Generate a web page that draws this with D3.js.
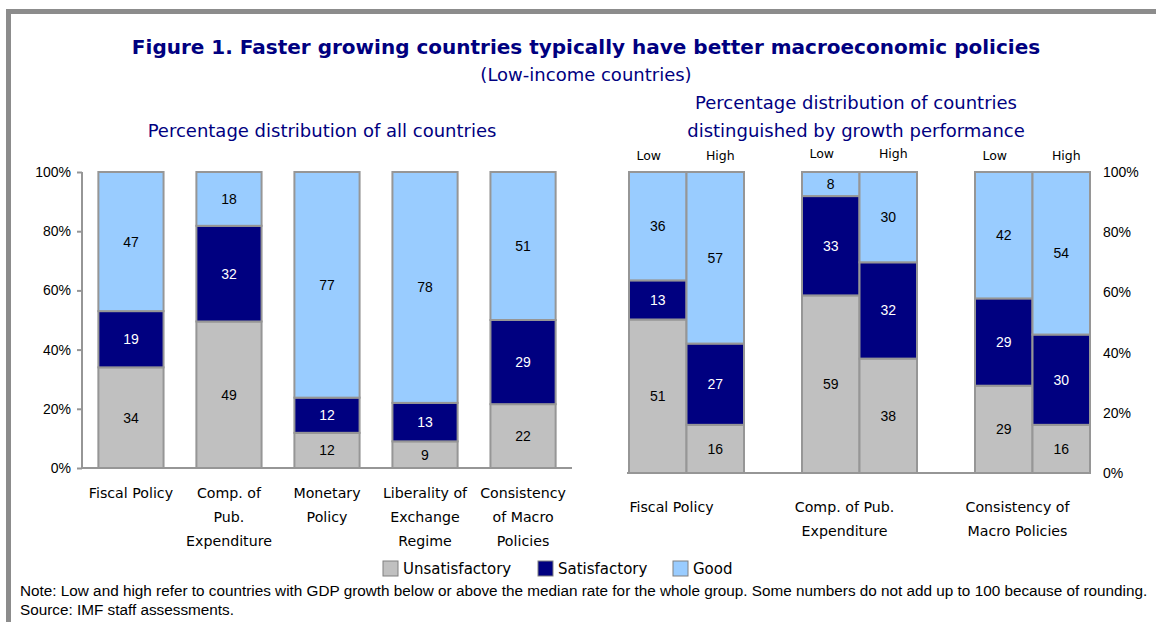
<!DOCTYPE html>
<html><head><meta charset="utf-8">
<script src="https://cdn.jsdelivr.net/npm/d3@7"></script>
<style>body{margin:0;background:#fff}svg{display:block}text{font-family:"Liberation Sans",Arial,sans-serif}.dv{font-family:"DejaVu Sans",Verdana,sans-serif}</style>
</head><body>
<script>
// ---- data ----
const seriesNames = ["Unsatisfactory", "Satisfactory", "Good"];
const leftCategories = [["Fiscal Policy"], ["Comp. of", "Pub.", "Expenditure"], ["Monetary", "Policy"], ["Liberality of", "Exchange", "Regime"], ["Consistency", "of Macro", "Policies"]];
const leftUnsatisfactory = [34, 49, 12, 9, 22];
const leftSatisfactory = [19, 32, 12, 13, 29];
const leftGood = [47, 18, 77, 78, 51];
const rightGroups = [["Fiscal Policy"], ["Comp. of Pub.", "Expenditure"], ["Consistency of", "Macro Policies"]];
const rightSubgroups = ["Low", "High"];
const rightUnsatisfactory = [[51, 16], [59, 38], [29, 16]];
const rightSatisfactory = [[13, 27], [33, 32], [29, 30]];
const rightGood = [[36, 57], [8, 30], [42, 54]];
const yTicks = [0, 20, 40, 60, 80, 100];

const colors = ["#C0C0C0", "#000080", "#99CCFF"];
const labelColors = ["#000", "#fff", "#000"];
const strokeCol = "#969696";

const svg = d3.select("body").append("svg").attr("width", 1156).attr("height", 622);

// frame
svg.append("rect").attr("x", 6).attr("y", 9).attr("width", 1150).attr("height", 5).attr("fill", "#8c8c8c");
svg.append("rect").attr("x", 6).attr("y", 9).attr("width", 5).attr("height", 613).attr("fill", "#8c8c8c");

const navy = "#000080";
svg.append("text").attr("class", "dv").attr("x", 586).attr("y", 54).attr("text-anchor", "middle")
  .attr("font-size", 20).attr("font-weight", "bold").attr("fill", navy)
  .text("Figure 1. Faster growing countries typically have better macroeconomic policies");
svg.append("text").attr("class", "dv").attr("x", 586).attr("y", 81).attr("text-anchor", "middle")
  .attr("font-size", 18).attr("fill", navy).text("(Low-income countries)");
svg.append("text").attr("class", "dv").attr("x", 322).attr("y", 137).attr("text-anchor", "middle")
  .attr("font-size", 18).attr("fill", navy).text("Percentage distribution of all countries");
svg.append("text").attr("class", "dv").attr("x", 856).attr("y", 109).attr("text-anchor", "middle")
  .attr("font-size", 18).attr("fill", navy).text("Percentage distribution of countries");
svg.append("text").attr("class", "dv").attr("x", 856).attr("y", 137).attr("text-anchor", "middle")
  .attr("font-size", 18).attr("fill", navy).text("distinguished by growth performance");

function stackSegs(vals) {
  const total = d3.sum(vals);
  let acc = 0;
  return vals.map((v, i) => { const s = {i, v, y0: acc / total * 100, y1: (acc + v) / total * 100}; acc += v; return s; });
}

// ---- left chart ----
const yL = d3.scaleLinear().domain([0, 100]).range([468, 172]);
const xL = d3.scaleBand().domain(d3.range(leftCategories.length)).range([82, 572]).paddingInner(0.335).paddingOuter(0.167);

const gL = svg.append("g");
leftCategories.forEach((c, k) => {
  const segs = stackSegs([leftUnsatisfactory[k], leftSatisfactory[k], leftGood[k]]);
  const g = gL.append("g");
  g.selectAll("rect").data(segs).join("rect")
    .attr("x", xL(k)).attr("width", xL.bandwidth())
    .attr("y", d => yL(d.y1)).attr("height", d => yL(d.y0) - yL(d.y1))
    .attr("fill", d => colors[d.i]).attr("stroke", strokeCol).attr("stroke-width", 2);
  g.selectAll("text").data(segs).join("text")
    .attr("x", xL(k) + xL.bandwidth() / 2).attr("y", d => yL((d.y0 + d.y1) / 2) + 5)
    .attr("text-anchor", "middle").attr("font-size", 14).attr("fill", d => labelColors[d.i]).text(d => d.v);
  const t = g.append("text").attr("class", "dv").attr("text-anchor", "middle").attr("font-size", 14.2).attr("fill", "#000");
  c.forEach((line, j) => t.append("tspan").attr("x", xL(k) + xL.bandwidth() / 2).attr("y", 498 + j * 24).text(line));
});
const axL = svg.append("g").attr("transform", "translate(82,0)")
  .call(d3.axisLeft(yL).tickValues(yTicks).tickFormat(d => d + "%").tickSize(5).tickPadding(6));
axL.select(".domain").attr("stroke", strokeCol).attr("stroke-width", 2).attr("d", "M0,172V468");
axL.selectAll(".tick line").attr("stroke", strokeCol).attr("stroke-width", 2);
axL.selectAll(".tick text").attr("font-size", 14).attr("fill", "#000").attr("font-family", "Liberation Sans, Arial, sans-serif");
svg.append("line").attr("x1", 82).attr("x2", 572).attr("y1", 468).attr("y2", 468).attr("stroke", strokeCol).attr("stroke-width", 2);

// ---- right chart ----
const yR = d3.scaleLinear().domain([0, 100]).range([473, 172]);
const x0 = d3.scaleBand().domain(d3.range(rightGroups.length)).range([600, 1119]);
const groupW = 115;
const x1 = d3.scaleBand().domain(rightSubgroups).range([0, groupW]);
svg.append("line").attr("x1", 627).attr("x2", 1091).attr("y1", 473).attr("y2", 473).attr("stroke", strokeCol).attr("stroke-width", 2);
rightGroups.forEach((grp, k) => {
  const gx = x0(k) + (x0.bandwidth() - groupW) / 2;
  rightSubgroups.forEach((sg, s) => {
    const segs = stackSegs([rightUnsatisfactory[k][s], rightSatisfactory[k][s], rightGood[k][s]]);
    const bx = gx + x1(sg);
    const g = svg.append("g");
    g.selectAll("rect").data(segs).join("rect")
      .attr("x", bx).attr("width", x1.bandwidth())
      .attr("y", d => yR(d.y1)).attr("height", d => yR(d.y0) - yR(d.y1))
      .attr("fill", d => colors[d.i]).attr("stroke", strokeCol).attr("stroke-width", 2);
    g.selectAll("text").data(segs).join("text")
      .attr("x", bx + x1.bandwidth() / 2).attr("y", d => yR((d.y0 + d.y1) / 2) + 5)
      .attr("text-anchor", "middle").attr("font-size", 14).attr("fill", d => labelColors[d.i]).text(d => d.v);
    g.append("text").attr("class", "dv").attr("x", bx + x1.bandwidth() / 2 + (s === 0 ? -9 : 5)).attr("y", k === 1 ? 158 : 160)
      .attr("text-anchor", "middle").attr("font-size", 12.5).attr("fill", "#000").text(sg);
  });
  const t = svg.append("text").attr("class", "dv").attr("text-anchor", "middle").attr("font-size", 14.2).attr("fill", "#000");
  grp.forEach((line, j) => t.append("tspan").attr("x", gx + groupW / 2 - 15).attr("y", 512 + j * 24).text(line));
});
const axR = svg.append("g").attr("transform", "translate(1098,0)")
  .call(d3.axisRight(yR).tickValues(yTicks).tickFormat(d => d + "%").tickSize(0).tickPadding(5));
axR.select(".domain").remove();
axR.selectAll(".tick text").attr("font-size", 14).attr("fill", "#000").attr("font-family", "Liberation Sans, Arial, sans-serif");

// ---- legend ----
const legX = [383, 538, 673];
const leg = svg.append("g");
seriesNames.forEach((n, i) => {
  leg.append("rect").attr("x", legX[i]).attr("y", 561).attr("width", 15).attr("height", 15)
    .attr("fill", colors[i]).attr("stroke", "#808080").attr("stroke-width", 1);
  leg.append("text").attr("class", "dv").attr("x", legX[i] + 20).attr("y", 574).attr("font-size", 15).attr("fill", "#000").text(n);
});

// ---- notes ----
svg.append("text").attr("x", 20).attr("y", 596).attr("font-size", 15.3).attr("fill", "#000")
  .text("Note: Low and high refer to countries with GDP growth below or above the median rate for the whole group. Some numbers do not add up to 100 because of rounding.");
svg.append("text").attr("x", 20).attr("y", 615).attr("font-size", 15.3).attr("fill", "#000")
  .text("Source: IMF staff assessments.");
</script>
</body></html>
